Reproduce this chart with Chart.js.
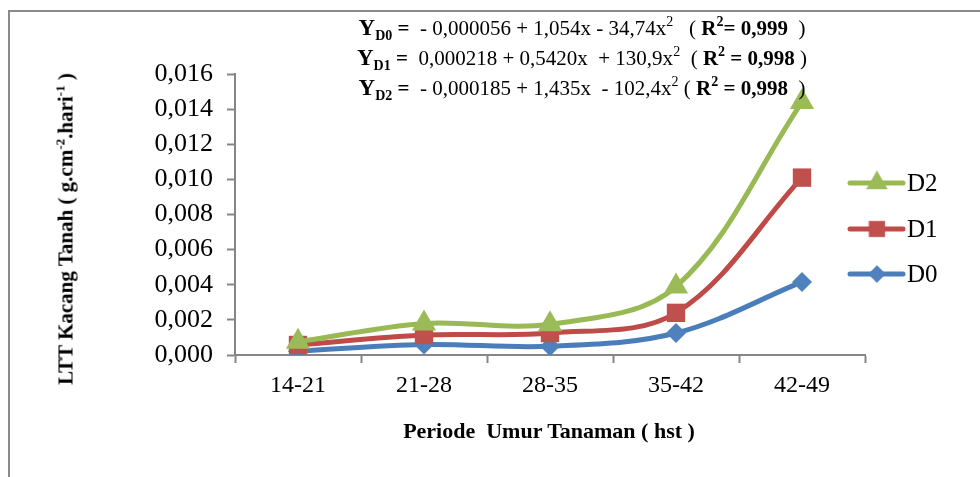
<!DOCTYPE html>
<html>
<head>
<meta charset="utf-8">
<script src="https://cdn.jsdelivr.net/npm/chart.js@4.4.1/dist/chart.umd.min.js"></script>
<style>
  html, body { margin: 0; padding: 0; background: #fff; }
  #wrap { position: relative; width: 980px; height: 477px; overflow: hidden; font-family: 'Liberation Serif', 'Times New Roman', serif; color: #000; }
  #c { position: absolute; left: 0; top: 0; }
  .frameTop { position: absolute; left: 8px; top: 10px; width: 972px; height: 2px; background: #8a8a8a; }
  .frameLeft { position: absolute; left: 8px; top: 10px; width: 2px; height: 467px; background: #8a8a8a; }
  #eq { position: absolute; left: 282px; top: 13px; width: 600px; text-align: center; font-size: 21px; line-height: 29px; white-space: pre; }
  #eq b { font-weight: bold; }
  #eq .Y { font-size: 23px; }
  #eq sub { font-size: 14px; vertical-align: -5px; line-height: 0; font-weight: bold; }
  #eq sup { font-size: 14px; vertical-align: 9px; line-height: 0; }
  #ytitle { position: absolute; left: 66px; top: 229px; transform: translate(-50%, -50%) rotate(-90deg); font-weight: bold; font-size: 21px; white-space: pre; }
  #ytitle sup { font-size: 13px; vertical-align: 8px; line-height: 0; }
  #xtitle { position: absolute; left: 549px; top: 431px; transform: translate(-50%, -50%); font-weight: bold; font-size: 22px; white-space: pre; }
</style>
</head>
<body>
<div id="wrap">
  <canvas id="c" width="980" height="477"></canvas>
  <div class="frameTop"></div>
  <div class="frameLeft"></div>
  <div id="eq"><div><b><span class="Y">Y</span><sub>D0</sub> = </b> - 0,000056 + 1,054x - 34,74x<sup>2</sup>   ( <b>R<sup>2</sup>= 0,999</b>  )</div><div><b><span class="Y">Y</span><sub>D1</sub> = </b> 0,000218 + 0,5420x  + 130,9x<sup>2</sup>  ( <b>R<sup>2</sup> = 0,998</b> )</div><div><b><span class="Y">Y</span><sub>D2</sub> = </b> - 0,000185 + 1,435x  - 102,4x<sup>2</sup> ( <b>R<sup>2</sup> = 0,998</b>  )</div></div>
  <div id="ytitle">LTT Kacang Tanah ( g.cm<sup>-2</sup>.hari<sup>-1</sup> )</div>
  <div id="xtitle">Periode  Umur Tanaman ( hst )</div>
</div>
<script>
// ---- data ----
const categories = ['14-21', '21-28', '28-35', '35-42', '42-49'];
const seriesNames = ['D0', 'D1', 'D2'];
const valuesD0 = [0.00022, 0.0006, 0.0005, 0.00125, 0.00416];
const valuesD1 = [0.00057, 0.00114, 0.00125, 0.0024, 0.0101];
const valuesD2 = [0.00075, 0.0018, 0.00175, 0.0039, 0.0144];
const yTicks = [0, 0.002, 0.004, 0.006, 0.008, 0.010, 0.012, 0.014, 0.016];

const AREA_LEFT = 235, AREA_RIGHT = 865, AREA_TOP = 74, AREA_BOTTOM = 355;
const W = 980, H = 477;
const axisColor = '#868686';

const datasets = [
  { label: seriesNames[0], data: valuesD0, borderColor: '#4a7ebb', backgroundColor: '#4f81bd', pointStyle: 'rectRot', pointRadius: 10, order: 2 },
  { label: seriesNames[1], data: valuesD1, borderColor: '#be4b48', backgroundColor: '#c0504d', pointStyle: 'rect', pointRadius: 13, order: 1 },
  { label: seriesNames[2], data: valuesD2, borderColor: '#98b954', backgroundColor: '#9bbb59', pointStyle: 'triangle', pointRadius: 14, order: 0 }
].map(d => Object.assign(d, {
  borderWidth: 5,
  tension: 0.35,
  pointBorderWidth: 0,
  pointBorderColor: d.backgroundColor,
  pointBackgroundColor: d.backgroundColor,
  pointHoverRadius: d.pointRadius,
  fill: false
}));

const legendPlugin = {
  id: 'sideLegend',
  afterDraw(chart) {
    const ctx = chart.ctx;
    const rows = [{ i: 2, y: 183 }, { i: 1, y: 229 }, { i: 0, y: 274 }];
    ctx.save();
    rows.forEach(r => {
      const ds = chart.data.datasets[r.i];
      ctx.strokeStyle = ds.borderColor;
      ctx.lineWidth = 5;
      ctx.lineCap = 'round';
      ctx.beginPath();
      ctx.moveTo(850, r.y);
      ctx.lineTo(903, r.y);
      ctx.stroke();
      ctx.fillStyle = ds.backgroundColor;
      ctx.strokeStyle = ds.backgroundColor;
      ctx.lineWidth = 0.5;
      Chart.helpers.drawPoint(ctx, { pointStyle: ds.pointStyle, radius: ds.pointRadius * 0.85, rotation: 0, borderWidth: 0.5 }, 877, r.y);
      ctx.fillStyle = '#000';
      ctx.font = '25px "Liberation Serif"';
      ctx.textBaseline = 'middle';
      ctx.textAlign = 'left';
      ctx.fillText(ds.label, 907, r.y + 1);
    });
    ctx.restore();
  }
};

new Chart(document.getElementById('c'), {
  type: 'line',
  data: { labels: categories, datasets },
  options: {
    responsive: false,
    animation: false,
    devicePixelRatio: 1,
    layout: { padding: { left: 0, right: W - AREA_RIGHT, top: AREA_TOP, bottom: 0 } },
    plugins: { legend: { display: false }, tooltip: { enabled: false }, title: { display: false } },
    scales: {
      x: {
        type: 'category',
        offset: true,
        grid: { display: true, drawOnChartArea: false, drawTicks: true, tickLength: 8, tickWidth: 2, color: axisColor, offset: true },
        border: { display: true, color: axisColor, width: 2 },
        ticks: { color: '#000', font: { family: 'Liberation Serif', size: 24 }, padding: 8, maxRotation: 0, autoSkip: false },
        afterFit(scale) { scale.height = H - AREA_BOTTOM; }
      },
      y: {
        min: yTicks[0],
        max: yTicks[yTicks.length - 1],
        afterBuildTicks(scale) { scale.ticks = yTicks.map(v => ({ value: v })); },
        grid: { display: true, drawOnChartArea: false, drawTicks: true, tickLength: 8, tickWidth: 2, color: axisColor },
        border: { display: true, color: axisColor, width: 2 },
        ticks: {
          color: '#000',
          font: { family: 'Liberation Serif', size: 26 },
          padding: 14,
          callback: v => Number(v).toFixed(3).replace('.', ',')
        },
        afterFit(scale) { scale.width = AREA_LEFT; }
      }
    }
  },
  plugins: [legendPlugin]
});
</script>
</body>
</html>
